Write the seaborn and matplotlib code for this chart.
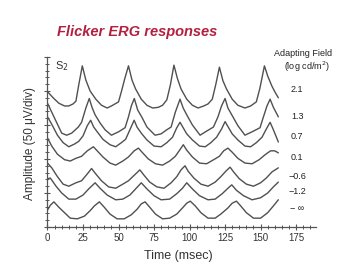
import numpy as np
import pandas as pd
import matplotlib
matplotlib.use("Agg")
import matplotlib.pyplot as plt
import seaborn as sns
from matplotlib.ticker import MultipleLocator

# ---- data (time in msec, amplitude in divisions of 50 uV) ----
fields = ["2.1", "1.3", "0.7", "0.1", "\u22120.6", "\u22121.2", "\u2212 \u221e"]

t1 = [0, 4, 8, 12, 15, 18, 20, 22, 24.5, 27, 30, 34, 38, 42, 45, 47.5, 50, 52, 54.5, 57, 59.5, 62, 66, 70, 74, 78, 81, 84,
      86.5, 89, 91.5, 94, 98, 102, 106, 110, 113, 116, 118.5, 121, 123.5, 126, 130, 134, 139, 143, 147, 149.5, 152.7,
      155, 158, 160, 162.5]
a1 = [19.9, 19.0, 18.2, 17.8, 17.8, 18.1, 18.5, 20.9, 23.7, 21.6, 20.0, 18.8, 17.9, 17.5, 17.8, 18.1, 18.4, 19.9, 21.9,
      23.7, 21.6, 20.3, 18.8, 17.9, 17.5, 17.6, 17.9, 18.7, 20.9, 23.8, 21.8, 20.3, 18.8, 17.9, 17.5, 17.8, 18.1, 18.8,
      21.0, 23.5, 21.5, 20.3, 18.8, 17.9, 17.5, 17.8, 18.4, 20.4, 23.7, 22.2, 20.7, 19.9, 19.0]

t2 = [0, 5, 10, 13.5, 17, 21.7, 24, 27, 29.4, 31.5, 33.5, 37, 40.5, 45, 50, 54.6, 57, 59, 61.1, 63.5, 66.3, 70, 75.7, 80,
      84, 87, 90, 93.3, 95.5, 98, 102, 107.4, 112, 116.8, 120, 122.5, 125, 127, 129.7, 134, 139, 144, 149.6, 152, 154.5,
      156.7, 159, 162.5]
a2 = [18.2, 16.0, 13.8, 13.5, 13.8, 14.7, 15.4, 17.5, 18.9, 17.5, 16.5, 15.3, 14.3, 13.5, 14.0, 14.6, 16.2, 17.8, 18.9,
      17.2, 16.2, 14.7, 13.5, 13.7, 14.3, 14.7, 16.9, 18.8, 17.5, 16.5, 15.0, 13.5, 14.1, 14.7, 16.2, 17.8, 18.9, 17.5,
      16.5, 14.9, 13.5, 14.0, 14.6, 16.2, 17.8, 18.8, 17.6, 16.2]

t3 = [0, 3, 7, 11, 15, 19, 22, 25, 28, 30.4, 32.5, 35, 39, 44, 48, 52, 55, 58, 61, 63, 66, 70, 75, 80, 84, 88, 91, 93.3,
      95.5, 98, 102, 107, 111, 115, 119, 122.5, 125, 127.5, 130, 134, 139, 143, 147, 151, 154, 156.7, 159, 162.5]
a3 = [16.2, 15.1, 13.5, 12.4, 11.8, 12.2, 12.6, 13.4, 14.9, 15.7, 14.7, 14.0, 12.9, 12.1, 11.8, 12.4, 12.9, 14.3, 15.7,
      14.7, 13.8, 12.8, 11.9, 11.8, 12.4, 13.2, 14.6, 15.4, 14.6, 13.7, 12.8, 11.9, 11.8, 12.4, 13.2, 14.4, 15.5, 14.6,
      13.7, 12.8, 11.9, 11.8, 12.4, 13.2, 14.4, 15.4, 14.3, 12.5]

t4 = [0, 3, 7, 12, 16, 20, 24, 28, 32.3, 35, 39, 44, 48, 53, 57, 61, 64, 67, 71, 76, 81, 86, 90, 93, 95.6, 98, 102, 107,
      112, 117, 121, 124, 127, 130, 134, 139, 144, 149, 153, 157, 160, 162.5]
a4 = [13.1, 11.9, 10.7, 9.9, 9.7, 10.1, 10.4, 11.2, 11.8, 11.2, 10.3, 9.4, 9.1, 9.7, 10.3, 11.2, 11.6, 10.9, 10.0, 9.3,
      9.1, 9.7, 10.4, 11.3, 12.1, 11.3, 10.3, 9.4, 9.3, 9.9, 10.4, 11.2, 11.6, 11.0, 10.1, 9.4, 9.3, 9.9, 10.6, 11.2,
      11.2, 10.9]

t5 = [0, 3, 7, 11, 15, 20, 24, 28, 31, 34, 38, 43, 48, 53, 57, 61, 65, 68, 72, 77, 82, 87, 91, 94, 96.8, 99, 103, 108,
      113, 118, 122, 125.5, 128.5, 131, 135, 140, 145, 150, 154, 158, 162.5]
a5 = [9.4, 8.7, 7.4, 6.3, 6.0, 6.5, 6.8, 7.8, 8.6, 7.8, 6.8, 5.9, 5.7, 6.3, 6.8, 7.6, 8.4, 7.6, 6.6, 5.9, 5.7, 6.5, 7.4,
      8.4, 9.0, 8.2, 7.2, 6.3, 6.0, 6.6, 7.4, 8.2, 8.8, 8.1, 7.1, 6.3, 6.0, 6.5, 7.2, 8.1, 8.7]

t6 = [0, 2, 6, 10, 15, 20, 25, 29, 33.5, 37, 42, 48, 53, 58, 62, 66, 70, 75, 80, 86, 91, 95, 98, 102, 107, 113, 118, 123,
      127, 129.7, 133, 138, 144, 150, 155, 159, 162.5]
a6 = [7.1, 7.2, 6.0, 5.0, 4.1, 4.1, 4.7, 5.6, 6.5, 5.7, 4.7, 4.0, 4.1, 4.7, 5.6, 6.5, 5.6, 4.6, 4.0, 4.1, 4.9, 5.7, 6.5,
      5.6, 4.6, 4.0, 4.1, 4.9, 5.7, 6.2, 5.4, 4.6, 4.0, 4.3, 5.0, 5.9, 6.6]

t7 = [0, 2, 4.5, 8, 12, 16, 21, 26, 30, 33, 36.5, 40, 44, 49, 54, 59, 63, 66, 68.7, 72, 76, 81, 86, 91, 95, 98, 100.5,
      104, 108, 113, 118, 122, 127, 130, 133, 136, 140, 145, 150, 155, 159, 162.5]
a7 = [2.5, 3.2, 3.7, 2.9, 2.1, 1.3, 1.2, 1.6, 2.4, 3.1, 3.7, 2.9, 1.9, 1.2, 1.2, 1.8, 2.6, 3.4, 3.7, 2.9, 1.9, 1.2, 1.3,
      1.9, 2.8, 3.5, 3.8, 3.1, 2.1, 1.3, 1.3, 1.9, 2.8, 3.5, 3.8, 3.1, 2.1, 1.3, 1.3, 2.1, 3.1, 4.0]

# label levels (divisions) for the adapting-field annotations
label_levels = [20.25, 16.3, 13.3, 10.25, 7.4, 5.2, 2.75]

x_ticks = [0, 25, 50, 75, 100, 125, 150, 175]

times = [t1, t2, t3, t4, t5, t6, t7]
amps = [a1, a2, a3, a4, a5, a6, a7]

frames = []
for f, t, a in zip(fields, times, amps):
    frames.append(pd.DataFrame({"time": t, "amp": a, "field": f}))
df = pd.concat(frames, ignore_index=True)

# ---- figure ----
sns.set_theme(style="ticks")
plt.rcParams["font.family"] = ["Liberation Sans", "DejaVu Sans"]

W, H = 355, 271
fig = plt.figure(figsize=(W / 100, H / 100), dpi=100)
fig.patch.set_facecolor("white")

ax_l, ax_r, ax_t, ax_b = 47.5, 316, 57, 227
ax = fig.add_axes([ax_l / W, 1 - ax_b / H, (ax_r - ax_l) / W, (ax_b - ax_t) / H])
ax.set_facecolor("white")

line_col = "#505050"
sns.lineplot(data=df, x="time", y="amp", hue="field", hue_order=fields,
             palette=[line_col] * len(fields), estimator=None, sort=False,
             legend=False, linewidth=1.0, ax=ax)

ax.set_xlim(0, 189)
ax.set_ylim(0, 25)

for s in ["top", "right"]:
    ax.spines[s].set_visible(False)
for s in ["left", "bottom"]:
    ax.spines[s].set_color("#555555")
    ax.spines[s].set_linewidth(0.9)

ax.xaxis.set_major_locator(plt.FixedLocator(x_ticks))
ax.xaxis.set_minor_locator(MultipleLocator(5))
ax.set_xticklabels([str(v) for v in x_ticks])
ax.yaxis.set_major_locator(MultipleLocator(5))
ax.yaxis.set_minor_locator(MultipleLocator(1))
ax.set_yticklabels([])
ax.tick_params(which="both", bottom=True, left=True, top=False, right=False)
ax.tick_params(axis="x", which="major", direction="inout", length=5, width=0.8, color="#555555",
               labelsize=7, pad=1.5, labelcolor="#333333")
ax.tick_params(axis="x", which="minor", direction="inout", length=3, width=0.7, color="#555555")
ax.tick_params(axis="y", which="major", direction="inout", length=5, width=0.8, color="#555555")
ax.tick_params(axis="y", which="minor", direction="inout", length=3.5, width=0.7, color="#555555")
ax.set_xlabel("")
ax.set_ylabel("")

def px(x, y):
    return x / W, 1 - y / H

fig.text(*px(137, 32), "Flicker ERG responses", color="#b3203f", fontsize=10.5,
         fontweight="bold", fontstyle="italic", ha="center", va="center")
fig.text(*px(178, 256), "Time (msec)", fontsize=9, color="#333333", ha="center", va="center")
fig.text(*px(30, 143), "Amplitude (50 \u03bcV/div)", fontsize=8.5, color="#333333",
         rotation=90, ha="center", va="center")
fig.text(*px(62, 66), "S$_2$", fontsize=8, color="#333333", ha="center", va="center")
fig.text(*px(303, 53), "Adapting Field", fontsize=6.5, color="#222222", ha="center", va="center")
fig.text(*px(307, 67), "(log cd/m$^2$)", fontsize=6.5, color="#222222", ha="center", va="center")

for f, lv in zip(fields, label_levels):
    ax.text(175.7, lv, f, fontsize=6.5, color="#222222", ha="center", va="center")

fig.savefig("out.png", dpi=100, facecolor="white")
